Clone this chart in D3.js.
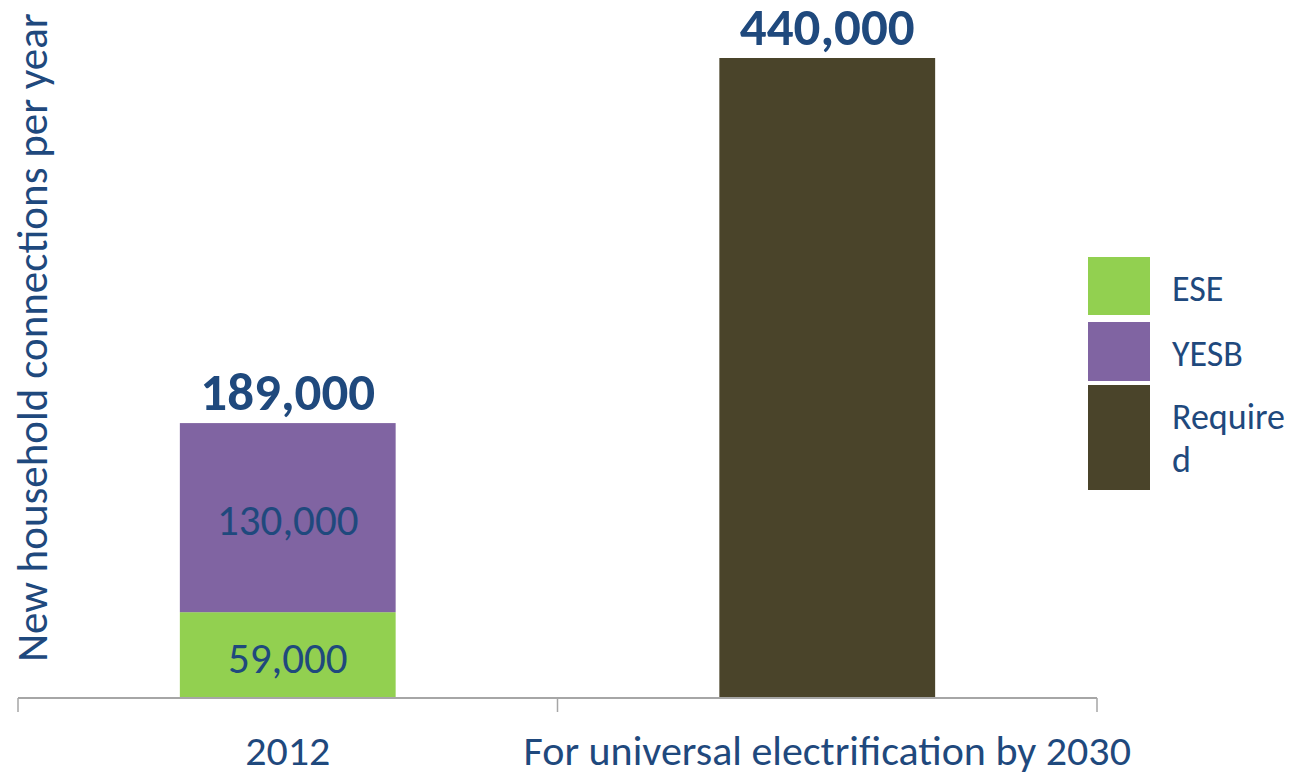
<!DOCTYPE html>
<html>
<head>
<meta charset="utf-8">
<script src="https://cdn.jsdelivr.net/npm/d3@7"></script>
<style>
  html, body { margin:0; padding:0; background:#fff; }
  svg text { font-family: Carlito, Lato, "Open Sans", sans-serif; }
</style>
</head>
<body>
<svg id="chart" width="1305" height="775"></svg>
<script>
// ---- data ----
const categories = ["2012", "For universal electrification by 2030"];
const seriesKeys = ["ESE", "YESB", "Required"];
const eseValues = [59000, 0];
const yesbValues = [130000, 0];
const requiredValues = [0, 440000];
const legendLabels = [["ESE"], ["YESB"], ["Require", "d"]];
const yTitle = "New household connections per year";

const COL = { ESE:"#92d050", YESB:"#8064a2", Required:"#4a442a" };
const TXT = "#1f497d";
const fmt = d3.format(",");

const svg = d3.select("#chart");
const M = { l:18, r:1097, top:58, base:698 };

const rows = categories.map((c,i) => ({ cat:c, ESE:eseValues[i], YESB:yesbValues[i], Required:requiredValues[i] }));
const stacked = d3.stack().keys(seriesKeys)(rows);
const totals = rows.map(r => seriesKeys.reduce((s,k) => s + r[k], 0));

const x = d3.scaleBand().domain(categories).range([M.l, M.r]).padding(0);
const y = d3.scaleLinear().domain([0, d3.max(totals)]).range([M.base, M.top]);
const barW = x.bandwidth() * 0.4;
const cx = c => x(c) + x.bandwidth()/2;

// bars
stacked.forEach(s => {
  svg.append("g").selectAll("rect").data(s.filter(d => d[1] > d[0])).join("rect")
    .attr("x", d => cx(d.data.cat) - barW/2)
    .attr("width", barW)
    .attr("y", d => y(d[1]))
    .attr("height", d => y(d[0]) - y(d[1]))
    .attr("fill", COL[s.key]);
});

// segment labels (only in stacked bar)
stacked.forEach(s => {
  s.forEach(d => {
    const r = d.data;
    const nonzero = seriesKeys.filter(k => r[k] > 0).length;
    if (nonzero < 2 || d[1] <= d[0]) return;
    svg.append("text")
      .attr("x", cx(r.cat))
      .attr("y", (y(d[0]) + y(d[1]))/2 + 2)
      .attr("dy", "0.36em")
      .attr("text-anchor", "middle")
      .attr("fill", TXT)
      .attr("font-size", 43)
      .text(fmt(d[1] - d[0]));
  });
});

// totals
rows.forEach((r,i) => {
  svg.append("text")
    .attr("x", cx(r.cat))
    .attr("y", y(totals[i]) - 13)
    .attr("text-anchor", "middle")
    .attr("fill", TXT)
    .attr("font-weight", 700)
    .attr("font-size", 53)
    .text(fmt(totals[i]));
});

// x axis
svg.append("line").attr("x1", M.l).attr("x2", M.r).attr("y1", M.base).attr("y2", M.base)
  .attr("stroke", "#a6a6a6").attr("stroke-width", 2);
const tickXs = [M.l].concat(categories.map(c => x(c) + x.bandwidth()));
svg.selectAll(".tk").data(tickXs).join("line")
  .attr("x1", d => d).attr("x2", d => d).attr("y1", M.base).attr("y2", M.base + 14)
  .attr("stroke", "#a6a6a6").attr("stroke-width", 1.5);

svg.selectAll(".cl").data(categories).join("text")
  .attr("x", d => cx(d)).attr("y", 765)
  .attr("text-anchor", "middle").attr("fill", TXT).attr("font-size", 42)
  .text(d => d);

// y title
svg.append("text")
  .attr("transform", `translate(47,${(15+660)/2}) rotate(-90)`)
  .attr("text-anchor", "middle").attr("fill", TXT).attr("font-size", 43)
  .text(yTitle);

// legend
const legY = [257, 322, 385];
const legH = [58, 59, 105];
seriesKeys.forEach((k,i) => {
  svg.append("rect").attr("x", 1088).attr("y", legY[i]).attr("width", 62).attr("height", legH[i])
    .attr("fill", COL[k]);
  legendLabels[i].forEach((t,j) => {
    svg.append("text").attr("x", 1172).attr("y", legY[i] + 44 + j*43)
      .attr("fill", TXT).attr("font-size", 36).text(t);
  });
});
</script>
</body>
</html>
